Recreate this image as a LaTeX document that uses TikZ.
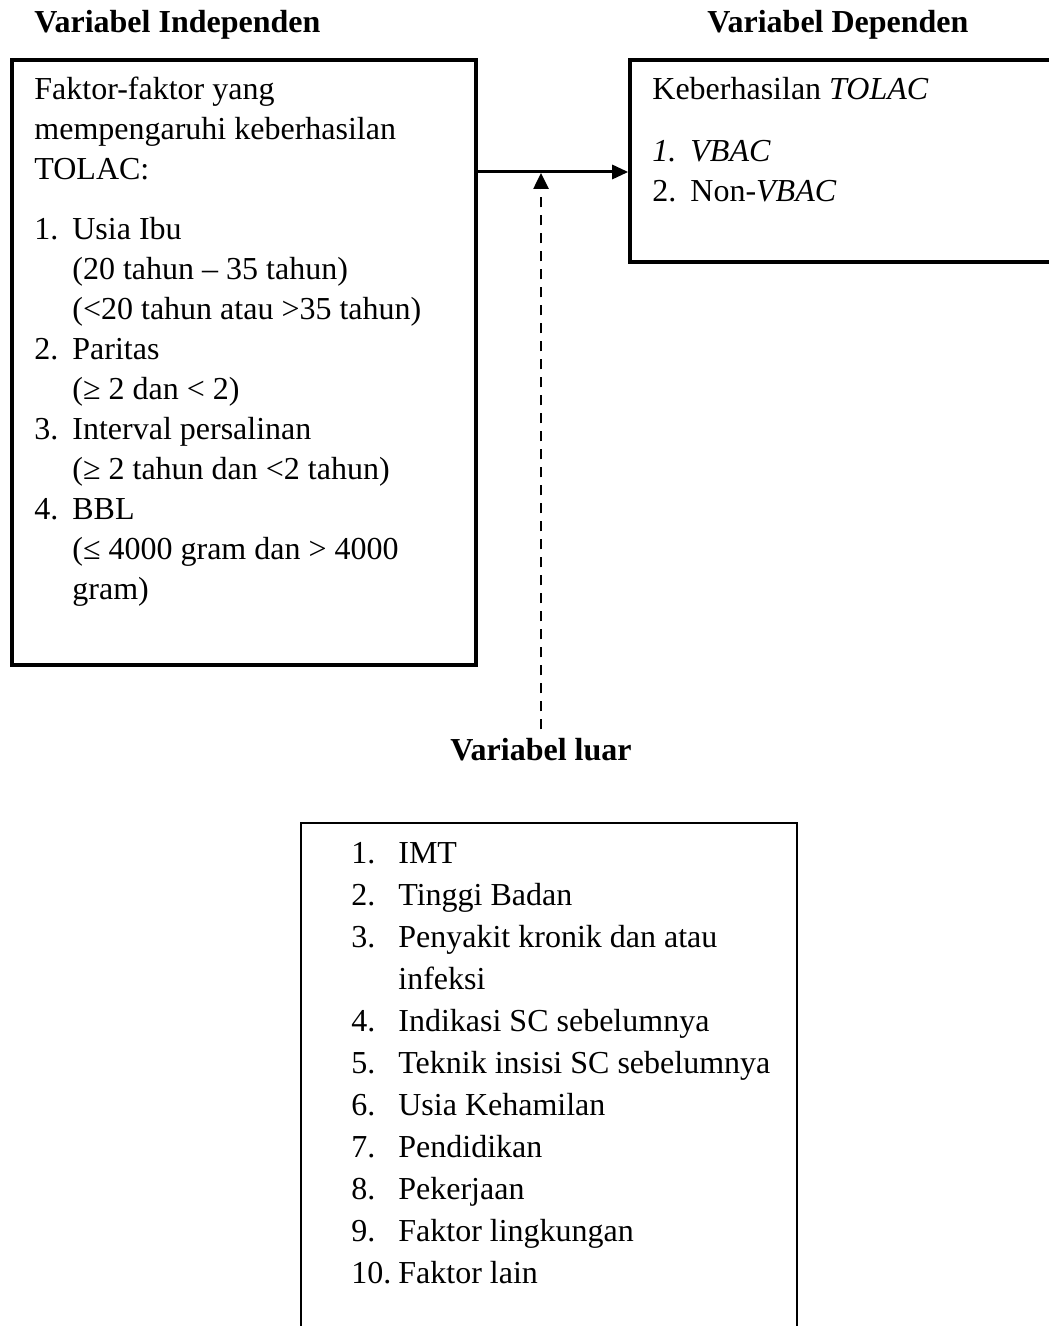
\documentclass[tikz,border=0pt]{standalone}
\usepackage{fontspec}
\setmainfont{Liberation Serif}
\usepackage{array}
\usetikzlibrary{arrows.meta,positioning,fit}

\begin{document}
\begin{tikzpicture}[
x=0.5pt, y=-0.5pt,
font=\fontsize{16}{20}\selectfont,
varbox/.style={draw, line width=1.8pt, inner sep=0pt},
thinbox/.style={draw, line width=0.8pt, inner sep=0pt},
vartitle/.style={font=\fontsize{16}{20}\selectfont\bfseries, inner sep=0pt},
vartext/.style={inner sep=0pt, anchor=base west},
mainarrow/.style={-{Triangle[length=8pt,width=7pt]}, line width=1.5pt},
outarrow/.style={-{Triangle[length=8pt,width=7.5pt]}, dash pattern=on 5pt off 4pt, line width=1.3pt}]

    \useasboundingbox (0,0) rectangle (1048,1326);

    % Titles
    \node[vartitle, anchor=base west] (indep) at (34,33) {Variabel Independen};
    \node[vartitle, anchor=base west] (dep) at (707,33) {Variabel Dependen};

    % Boxes
    \node[varbox, fit={(12,60) (476,665)}] (lbox) {};
    \node[varbox, fit={(630,60) (1070,262)}] (rbox) {};
    \node[thinbox, fit={(301,823) (797,1360)}] (obox) {};

    % Independent factors
    \node[vartext] (ltext) at (34,100) {\begin{tabular}[t]{@{}p{19pt}@{}l@{}}
        \multicolumn{2}{@{}l@{}}{Faktor-faktor yang}\\
        \multicolumn{2}{@{}l@{}}{mempengaruhi keberhasilan}\\
        \multicolumn{2}{@{}l@{}}{TOLAC:}\\[10pt]
        1. & Usia Ibu\\
           & (20 tahun -- 35 tahun)\\
           & (<20 tahun atau >35 tahun)\\
        2. & Paritas\\
           & (≥ 2 dan < 2)\\
        3. & Interval persalinan\\
           & (≥ 2 tahun dan <2 tahun)\\
        4. & BBL\\
           & (≤ 4000 gram dan > 4000\\
           & gram)
    \end{tabular}};

    % Dependent outcome
    \node[vartext] (rtext) at (652,100) {\begin{tabular}[t]{@{}p{19pt}@{}l@{}}
        \multicolumn{2}{@{}l@{}}{Keberhasilan \textit{TOLAC}}\\[11pt]
        \textit{1.} & \textit{VBAC}\\
        2. & Non-\textit{VBAC}
    \end{tabular}};

    % Outside variables
    \node[vartitle, anchor=base] (luar) at (541,760) {Variabel luar};
    \node[vartext] (otext) at (351,863) {\fontsize{16}{21}\selectfont
      \begin{tabular}[t]{@{}p{23.5pt}@{}l@{}}
        1. & IMT\\
        2. & Tinggi Badan\\
        3. & Penyakit kronik dan atau\\
           & infeksi\\
        4. & Indikasi SC sebelumnya\\
        5. & Teknik insisi SC sebelumnya\\
        6. & Usia Kehamilan\\
        7. & Pendidikan\\
        8. & Pekerjaan\\
        9. & Faktor lingkungan\\
        10. & Faktor lain
    \end{tabular}};

    % Arrows
    \coordinate (arrowy) at (0,172);
    \draw[mainarrow] (lbox.east |- arrowy) -- (rbox.west |- arrowy);
    \draw[outarrow] ([yshift=4pt]luar.north) -- (luar.north |- 0,173);

\end{tikzpicture}
\end{document}
